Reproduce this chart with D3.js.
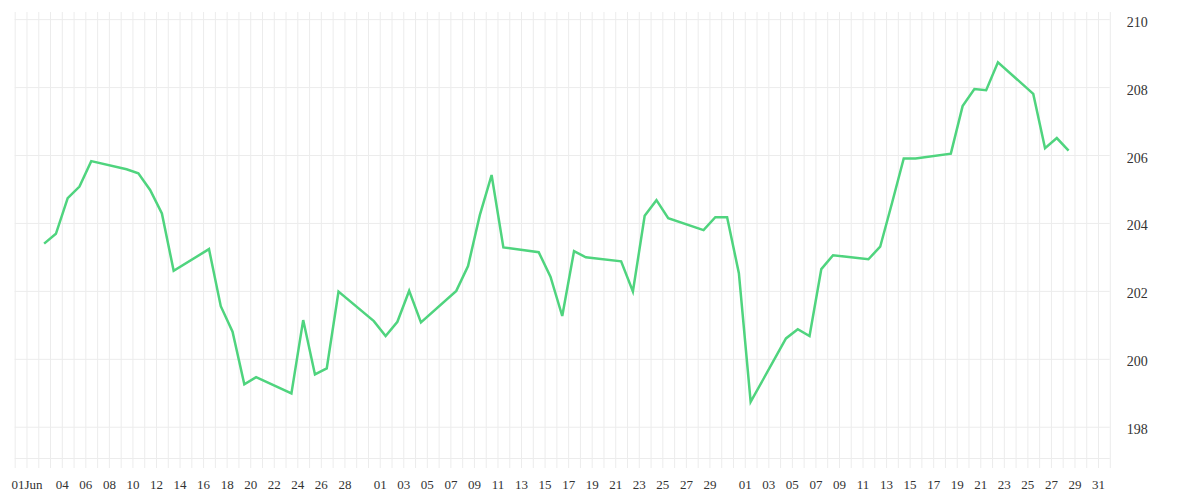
<!DOCTYPE html>
<html><head><meta charset="utf-8">
<script src="https://cdn.jsdelivr.net/npm/d3@7"></script>
<style>
html,body{margin:0;padding:0;background:#fff;}
svg{display:block;}
</style></head>
<body>
<svg id="chart" width="1200" height="500"></svg>
<script>
// ---- data ----
const dates = [
 "2025-06-02","2025-06-03","2025-06-04","2025-06-05","2025-06-06",
 "2025-06-09","2025-06-10","2025-06-11","2025-06-12","2025-06-13",
 "2025-06-16","2025-06-17","2025-06-18","2025-06-19","2025-06-20",
 "2025-06-23","2025-06-24","2025-06-25","2025-06-26","2025-06-27",
 "2025-06-30","2025-07-01","2025-07-02","2025-07-03","2025-07-04",
 "2025-07-07","2025-07-08","2025-07-09","2025-07-10","2025-07-11",
 "2025-07-14","2025-07-15","2025-07-16","2025-07-17","2025-07-18",
 "2025-07-21","2025-07-22","2025-07-23","2025-07-24","2025-07-25",
 "2025-07-28","2025-07-29","2025-07-30","2025-07-31","2025-08-01",
 "2025-08-04","2025-08-05","2025-08-06","2025-08-07","2025-08-08",
 "2025-08-11","2025-08-12","2025-08-13","2025-08-14","2025-08-15",
 "2025-08-18","2025-08-19","2025-08-20","2025-08-21","2025-08-22",
 "2025-08-25","2025-08-26","2025-08-27","2025-08-28"
];
const values = [
 203.39,203.68,204.73,205.07,205.82,
 205.58,205.46,204.97,204.28,202.59,
 203.23,201.55,200.80,199.25,199.46,
 198.98,201.14,199.54,199.72,201.98,
 201.11,200.67,201.09,202.00,201.07,
 202.00,202.73,204.23,205.41,203.28,
 203.14,202.42,201.26,203.17,202.99,
 202.87,201.98,204.21,204.67,204.14,
 203.79,204.17,204.17,202.52,198.73,
 200.60,200.87,200.67,202.64,203.05,
 202.93,203.30,204.58,205.90,205.90,
 206.04,207.44,207.94,207.91,208.73,
 207.80,206.20,206.50,206.13
];
const xTickDates = [
 "2025-06-01","2025-06-04","2025-06-06","2025-06-08","2025-06-10","2025-06-12","2025-06-14",
 "2025-06-16","2025-06-18","2025-06-20","2025-06-22","2025-06-24","2025-06-26","2025-06-28",
 "2025-07-01","2025-07-03","2025-07-05","2025-07-07","2025-07-09","2025-07-11","2025-07-13",
 "2025-07-15","2025-07-17","2025-07-19","2025-07-21","2025-07-23","2025-07-25","2025-07-27","2025-07-29",
 "2025-08-01","2025-08-03","2025-08-05","2025-08-07","2025-08-09","2025-08-11","2025-08-13",
 "2025-08-15","2025-08-17","2025-08-19","2025-08-21","2025-08-23","2025-08-25","2025-08-27",
 "2025-08-29","2025-08-31"
];
const xTickLabels = [
 "01Jun","04","06","08","10","12","14","16","18","20","22","24","26","28",
 "01","03","05","07","09","11","13","15","17","19","21","23","25","27","29",
 "01","03","05","07","09","11","13","15","17","19","21","23","25","27","29","31"
];
const yTicks = [198,200,202,204,206,208,210];
const xStart = "2025-05-31", xEnd = "2025-09-01";
const yMin = 197.08, yMax = 210.21;

// ---- layout ----
const parse = d3.utcParse("%Y-%m-%d");
const M = {left: 14.7, right: 1109.8, top: 12, bottom: 458};
const svg = d3.select("#chart");
const x = d3.scaleUtc().domain([parse(xStart), parse(xEnd)]).range([M.left, M.right]);
const y = d3.scaleLinear().domain([yMin, yMax]).range([M.bottom, M.top]);
const gridColor = "#ececec";

// vertical grid + ticks (every day)
const allDays = d3.utcDay.range(parse(xStart), d3.utcDay.offset(parse(xEnd), 1));
const gx = svg.append("g").attr("transform", `translate(0,${M.bottom})`)
  .call(d3.axisBottom(x).tickValues(allDays).tickSize(10).tickFormat(""));
gx.select(".domain").remove();
gx.selectAll(".tick line").attr("y1", M.top - M.bottom).attr("stroke", gridColor).attr("stroke-width", 1);

// horizontal grid
const gy = svg.append("g").attr("transform", `translate(${M.left},0)`)
  .call(d3.axisRight(y).tickValues(yTicks).tickSize(M.right - M.left).tickFormat(""));
gy.select(".domain").remove();
gy.selectAll(".tick line").attr("stroke", gridColor).attr("stroke-width", 1);

// bottom line
svg.append("line").attr("x1", M.left).attr("x2", M.right).attr("y1", M.bottom + 0.5).attr("y2", M.bottom + 0.5)
  .attr("stroke", gridColor);

// x labels
const labelMap = new Map(xTickDates.map((d, i) => [d, xTickLabels[i]]));
const fmt = d3.utcFormat("%Y-%m-%d");
const gl = svg.append("g").attr("transform", `translate(0,${M.bottom})`)
  .call(d3.axisBottom(x).tickValues(xTickDates.map(parse)).tickSize(0).tickPadding(22)
    .tickFormat(d => labelMap.get(fmt(d))));
gl.select(".domain").remove();
gl.selectAll("text").attr("font-family", "'Liberation Serif', serif").attr("font-size", 13).attr("fill", "#333");

// y labels
const yl = svg.append("g").attr("transform", `translate(${M.right},0)`)
  .call(d3.axisRight(y).tickValues(yTicks).tickSize(0).tickPadding(17).tickFormat(d3.format("d")));
yl.select(".domain").remove();
yl.selectAll("text").attr("font-family", "'Liberation Serif', serif").attr("font-size", 14).attr("fill", "#333")
  .attr("dy", "0.5em");

// line
const data = dates.map((d, i) => ({date: d3.utcHour.offset(parse(d), 12), value: values[i]}));
svg.append("path").datum(data)
  .attr("fill", "none").attr("stroke", "#4fd47e").attr("stroke-width", 2.5)
  .attr("stroke-linejoin", "miter")
  .attr("d", d3.line().x(d => x(d.date)).y(d => y(d.value)));
</script>
</body></html>
